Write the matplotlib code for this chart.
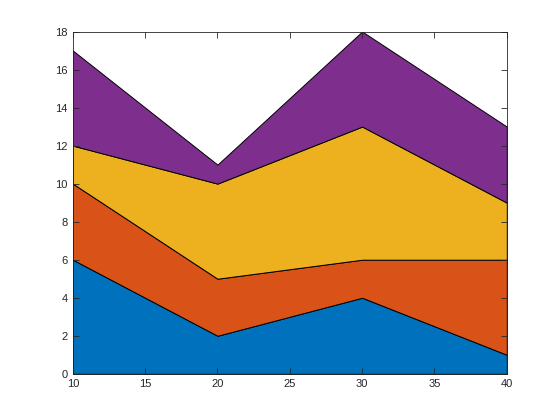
import numpy as np
import matplotlib
matplotlib.use("Agg")
import matplotlib.pyplot as plt

plt.rcParams['font.family'] = ['Liberation Sans', 'DejaVu Sans']

# data (stacked area)
x = [10, 20, 30, 40]
s1 = [6, 2, 4, 1]
s2 = [4, 3, 2, 5]
s3 = [2, 5, 7, 3]
s4 = [5, 1, 5, 4]
colors = ['#0072BD', '#D95319', '#EDB120', '#7E2F8E']

fig = plt.figure(figsize=(5.6, 4.2), dpi=100)
ax = fig.add_axes([0.13, 0.11, 0.775, 0.815])

ax.stackplot(x, s1, s2, s3, s4, colors=colors, edgecolor='black', linewidth=0.7)

ax.set_xlim(10, 40)
ax.set_ylim(0, 18)
ax.set_xticks(np.arange(10, 41, 5))
ax.set_yticks(np.arange(0, 19, 2))

for sp in ax.spines.values():
    sp.set_color('#262626')
    sp.set_linewidth(0.6)
ax.tick_params(direction='in', length=4, width=0.6, colors='#262626',
               labelsize=8, top=True, right=True, labeltop=False, labelright=False)

fig.savefig('out.png', dpi=100)
